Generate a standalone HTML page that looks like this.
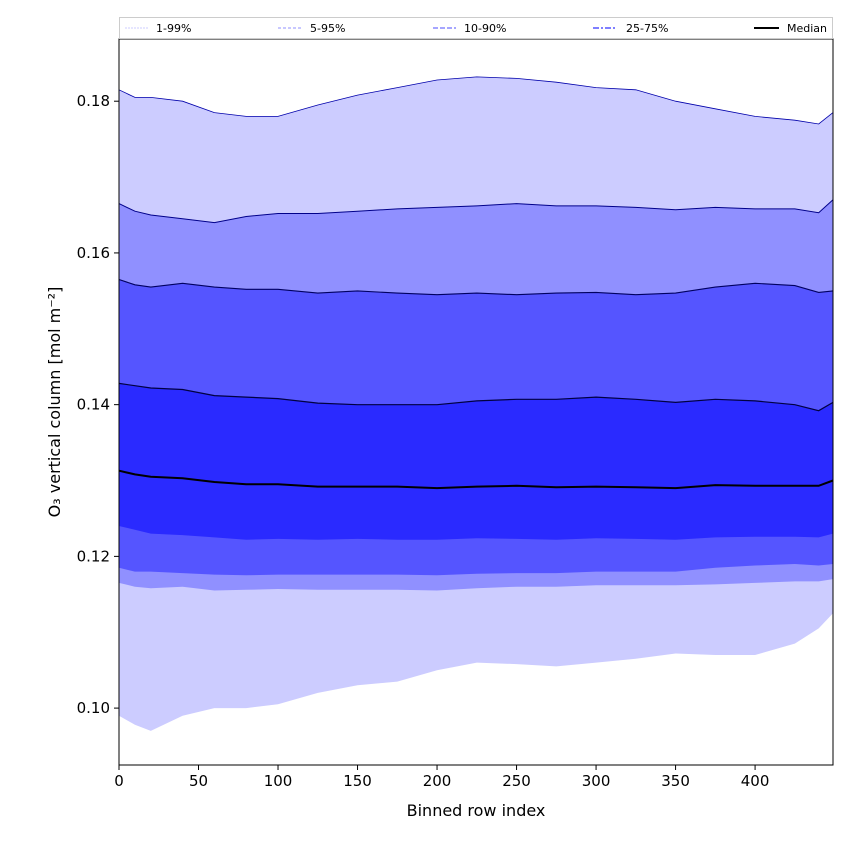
<!DOCTYPE html>
<html><head><meta charset="utf-8"><style>
body{margin:0;background:#fff;}
svg text{font-family:"DejaVu Sans","Liberation Sans",sans-serif;}
</style></head><body>
<svg id="chart" width="850" height="850" viewBox="0 0 850 850">
<g id="plot"></g>
<g id="axes"></g>
</svg>
<script>
const xs   = [0, 10, 20, 40, 60, 80, 100, 125, 150, 175, 200, 225, 250, 275, 300, 325, 350, 375, 400, 425, 440, 449];
const p99  = [0.1815,0.1805,0.1805,0.180,0.1785,0.178,0.178,0.1795,0.1808,0.1818,0.1828,0.1832,0.1830,0.1825,0.1818,0.1815,0.1800,0.1790,0.1780,0.1775,0.1770,0.1785];
const p95  = [0.1665,0.1655,0.1650,0.1645,0.1640,0.1648,0.1652,0.1652,0.1655,0.1658,0.1660,0.1662,0.1665,0.1662,0.1662,0.1660,0.1657,0.1660,0.1658,0.1658,0.1653,0.1670];
const p90  = [0.1565,0.1558,0.1555,0.1560,0.1555,0.1552,0.1552,0.1547,0.1550,0.1547,0.1545,0.1547,0.1545,0.1547,0.1548,0.1545,0.1547,0.1555,0.1560,0.1557,0.1548,0.1550];
const p75  = [0.1428,0.1425,0.1422,0.1420,0.1412,0.1410,0.1408,0.1402,0.1400,0.1400,0.1400,0.1405,0.1407,0.1407,0.1410,0.1407,0.1403,0.1407,0.1405,0.1400,0.1392,0.1403];
const p50  = [0.1313,0.1308,0.1305,0.1303,0.1298,0.1295,0.1295,0.1292,0.1292,0.1292,0.1290,0.1292,0.1293,0.1291,0.1292,0.1291,0.1290,0.1294,0.1293,0.1293,0.1293,0.1300];
const p25  = [0.1240,0.1235,0.1230,0.1228,0.1225,0.1222,0.1223,0.1222,0.1223,0.1222,0.1222,0.1224,0.1223,0.1222,0.1224,0.1223,0.1222,0.1225,0.1226,0.1226,0.1225,0.1230];
const p10  = [0.1185,0.1180,0.1180,0.1178,0.1176,0.1175,0.1176,0.1176,0.1176,0.1176,0.1175,0.1177,0.1178,0.1178,0.1180,0.1180,0.1180,0.1185,0.1188,0.1190,0.1188,0.1190];
const p5   = [0.1165,0.1160,0.1158,0.1160,0.1155,0.1156,0.1157,0.1156,0.1156,0.1156,0.1155,0.1158,0.1160,0.1160,0.1162,0.1162,0.1162,0.1163,0.1165,0.1167,0.1167,0.1170];
const p1   = [0.0990,0.0978,0.0970,0.0990,0.1000,0.1000,0.1005,0.1020,0.1030,0.1035,0.1050,0.1060,0.1058,0.1055,0.1060,0.1065,0.1072,0.1070,0.1070,0.1085,0.1105,0.1125];
const xTicks = [0,50,100,150,200,250,300,350,400];
const yTicks = [0.10,0.12,0.14,0.16,0.18];

const L=119,R=833,T=39,B=765, xMin=0,xMax=449, yMin=0.0925,yMax=0.1882;
const X=v=>L+(v-xMin)/(xMax-xMin)*(R-L);
const Y=v=>B-(v-yMin)/(yMax-yMin)*(B-T);
const NS="http://www.w3.org/2000/svg";
function mk(tag,attrs,parent){const e=document.createElementNS(NS,tag);for(const k in attrs)e.setAttribute(k,attrs[k]);parent.appendChild(e);return e;}
const plot=document.getElementById('plot'), axes=document.getElementById('axes');
function pts(arr){return xs.map((x,i)=>X(x).toFixed(1)+','+Y(arr[i]).toFixed(1));}
function band(lo,hi,fill,name){
  const d='M'+pts(hi).join('L')+'L'+pts(lo).reverse().join('L')+'Z';
  const p=mk('path',{d:d,fill:fill,stroke:'none'},plot);
  
  
}
band(p1,p99,'#ccccff','band-1-99');
band(p5,p95,'#9090ff','band-5-95');
band(p10,p90,'#5555ff','band-10-90');
band(p25,p75,'#2a2aff','band-25-75');
function line(arr,stroke,w,name){
  const p=mk('polyline',{points:pts(arr).join(' '),fill:'none',stroke:stroke,'stroke-width':w},plot);
  
  
}
line(p99,'#0000aa',0.8,'line-p99');
line(p95,'#00008a',1,'line-p95');
line(p90,'#000060',1.1,'line-p90');
line(p75,'#000040',1.2,'line-p75');
line(p50,'#000000',2,'median-line');

mk('rect',{x:L,y:T,width:R-L,height:B-T,fill:'none',stroke:'#000','stroke-width':1},axes);
xTicks.forEach(v=>{
  mk('line',{x1:X(v),x2:X(v),y1:B,y2:B+5,stroke:'#000'},axes);
  const t=mk('text',{x:X(v),y:B+21,'text-anchor':'middle','font-size':15},axes);t.textContent=v;
  
  
});
yTicks.forEach(v=>{
  mk('line',{x1:L-5,x2:L,y1:Y(v),y2:Y(v),stroke:'#000'},axes);
  const t=mk('text',{x:L-9,y:Y(v)+5,'text-anchor':'end','font-size':15},axes);t.textContent=v.toFixed(2);
  
  
});
</script>
<svg style="position:absolute;left:0;top:0" width="850" height="850">
<text x="476" y="816" text-anchor="middle" font-size="16">Binned row index</text>
<text transform="translate(60,402) rotate(-90)" text-anchor="middle" font-size="16">O₃ vertical column [mol m⁻²]</text>
<g>
<rect x="119.5" y="17.5" width="713" height="21" fill="#fff" stroke="#ccc"/>
<g><line x1="125" x2="148" y1="28" y2="28" stroke="#ccccff" stroke-dasharray="2,1"/><text x="156" y="32" font-size="11">1-99%</text></g>
<g><line x1="278" x2="301" y1="28" y2="28" stroke="#9090ff" stroke-dasharray="3,2"/><text x="310" y="32" font-size="11">5-95%</text></g>
<g><line x1="433" x2="456" y1="28" y2="28" stroke="#7070ff" stroke-width="1.2" stroke-dasharray="5,2"/><text x="464" y="32" font-size="11">10-90%</text></g>
<g><line x1="593" x2="616" y1="28" y2="28" stroke="#5555ff" stroke-width="1.6" stroke-dasharray="6,2,2,2"/><text x="626" y="32" font-size="11">25-75%</text></g>
<g><line x1="754" x2="779" y1="28" y2="28" stroke="#000" stroke-width="2"/><text x="787" y="32" font-size="11">Median</text></g>
</g>
</svg>
</body></html>
